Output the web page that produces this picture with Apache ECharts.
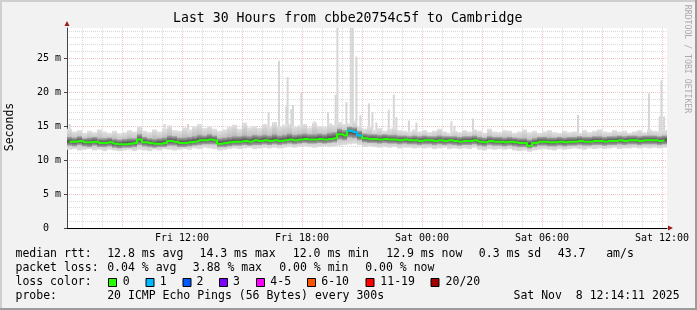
<!DOCTYPE html>
<html><head><meta charset="utf-8">
<script src="https://cdn.jsdelivr.net/npm/echarts@6/dist/echarts.min.js"></script>
<style>html,body{margin:0;padding:0;background:#f2f2f2}#c{width:697px;height:310px}</style>
</head><body><div id="c"></div>
<script>
// ---- data (hours counted from Fri 00:00) ----
const START_HOUR = 6.25;   // Fri 06:15
const STEP_HOURS = 0.25;   // one smoke column per 15 minutes

const medianVals = [
12.7,12.7,12.8,12.6,12.6,12.7,12.5,12.5,12.6,12.4,
12.3,12.3,12.4,12.5,13.0,12.6,12.5,12.4,12.4,12.5,
12.8,12.7,12.5,12.5,12.6,12.7,12.9,12.9,13.0,12.9,
12.4,12.5,12.6,12.7,12.7,12.8,12.7,12.9,12.8,12.9,
12.8,12.9,12.8,12.9,13.0,12.9,13.0,13.1,13.0,13.0,
13.1,13.0,13.1,13.2,13.8,13.6,14.3,14.1,13.6,13.2,
13.1,13.1,13.0,13.1,13.0,13.0,12.9,13.0,12.9,12.9,
12.8,12.9,12.9,12.8,12.9,12.8,12.9,12.8,12.7,12.8,
12.8,12.9,12.7,12.6,12.8,12.7,12.7,12.6,12.7,12.6,
12.5,12.5,12.1,12.5,12.7,12.7,12.6,12.6,12.7,12.6,
12.7,12.7,12.8,12.7,12.7,12.8,12.8,12.7,12.8,12.8,
12.9,12.8,12.9,12.9,12.8,12.9,12.9,12.9,12.8,12.9];

const hiVals = [
14.6,14.2,14.4,14.0,14.3,14.1,14.5,14.2,14.0,14.3,
13.9,14.1,14.4,14.2,14.9,14.3,14.1,14.5,14.2,14.6,
15.1,14.4,14.3,14.8,14.5,15.0,15.3,14.7,15.0,14.6,
14.3,14.5,14.9,15.2,14.6,15.5,14.8,15.0,14.7,15.3,
14.9,15.6,15.0,15.2,15.4,14.9,15.1,15.3,14.8,15.5,
15.0,14.9,15.4,15.2,15.6,15.3,15.4,15.8,15.0,14.6,
14.9,14.4,14.7,14.3,14.6,14.8,14.4,14.3,14.2,14.5,
14.2,14.4,14.1,14.3,14.6,14.2,14.0,14.3,14.1,14.4,
14.2,14.5,14.3,14.0,14.6,14.2,14.1,14.4,14.3,14.0,
14.2,14.5,14.1,14.3,14.0,14.2,14.4,14.1,14.0,14.3,
14.1,14.2,14.0,14.4,14.1,14.3,14.5,14.2,14.1,14.4,
14.2,14.3,14.0,14.2,14.4,14.1,14.5,14.3,14.2,14.4];

const loVals = [
11.5,11.6,11.4,11.5,11.6,11.4,11.5,11.3,11.5,11.4,
11.3,11.4,11.5,11.3,11.5,11.4,11.3,11.5,11.4,11.6,
11.5,11.4,11.5,11.6,11.5,11.7,11.6,11.8,11.7,11.6,
11.4,11.5,11.6,11.7,11.6,11.7,11.8,11.6,11.7,11.8,
11.7,11.8,11.7,11.8,11.9,11.8,11.9,12.0,11.9,11.8,
11.9,12.0,11.9,12.0,12.1,12.2,12.3,12.4,12.2,11.9,
12.0,11.9,11.8,11.9,11.8,11.9,11.7,11.8,11.8,11.7,
11.8,11.7,11.8,11.6,11.7,11.8,11.6,11.7,11.6,11.7,
11.6,11.8,11.5,11.4,11.6,11.5,11.6,11.5,11.6,11.4,
11.3,11.4,11.2,11.4,11.5,11.6,11.5,11.4,11.6,11.5,
11.6,11.7,11.6,11.5,11.7,11.6,11.7,11.6,11.7,11.8,
11.6,11.7,11.7,11.8,11.7,11.8,11.7,11.8,11.7,11.8];

const darkLoVals = [
12.1,12.0,12.2,12.0,11.9,12.1,11.9,11.9,12.0,11.8,
11.7,11.8,11.8,11.9,12.2,12.0,11.9,11.8,11.9,11.9,
12.1,12.1,11.9,11.9,12.0,12.1,12.2,12.3,12.3,12.3,
11.9,11.9,12.0,12.1,12.1,12.2,12.1,12.2,12.2,12.3,
12.2,12.3,12.2,12.3,12.4,12.3,12.4,12.5,12.4,12.4,
12.5,12.4,12.5,12.6,13.0,12.9,13.3,13.2,12.9,12.6,
12.5,12.5,12.4,12.5,12.4,12.4,12.3,12.4,12.3,12.3,
12.2,12.3,12.3,12.2,12.3,12.2,12.3,12.2,12.1,12.2,
12.2,12.3,12.1,12.0,12.2,12.1,12.1,12.0,12.1,12.0,
11.9,11.9,11.7,11.9,12.1,12.1,12.0,12.0,12.1,12.0,
12.1,12.1,12.2,12.1,12.1,12.2,12.2,12.1,12.2,12.2,
12.3,12.2,12.3,12.3,12.2,12.3,12.3,12.3,12.2,12.3];

const darkHiVals = [
13.4,13.3,13.5,13.2,13.3,13.4,13.2,13.2,13.3,13.1,
13.0,13.1,13.2,13.2,13.8,13.4,13.2,13.1,13.2,13.3,
13.6,13.5,13.3,13.3,13.4,13.5,13.7,13.6,13.8,13.6,
13.2,13.3,13.4,13.5,13.5,13.6,13.5,13.7,13.6,13.7,
13.6,13.8,13.6,13.7,13.9,13.7,13.8,13.9,13.8,13.8,
13.9,13.8,14.0,14.1,14.6,14.4,14.9,14.8,14.3,13.9,
13.8,13.8,13.7,13.8,13.7,13.7,13.6,13.6,13.5,13.6,
13.5,13.6,13.5,13.5,13.6,13.5,13.5,13.5,13.4,13.5,
13.5,13.6,13.4,13.3,13.5,13.4,13.4,13.3,13.4,13.3,
13.2,13.2,13.0,13.2,13.4,13.4,13.3,13.3,13.4,13.3,
13.4,13.4,13.5,13.4,13.4,13.5,13.5,13.4,13.5,13.5,
13.6,13.5,13.6,13.6,13.5,13.6,13.6,13.6,13.5,13.6];

// lost pings per column: [column index, lost count]
const lossSteps = [[56,1],[57,1],[58,1]];

// single tall outlier pings
const spikeHours = [6.38,11.13,12.30,15.10,16.33,16.85,17.22,17.28,17.47,17.55,17.97,18.62,
  19.30,19.68,19.77,20.22,20.44,20.54,20.72,20.92,21.35,21.52,21.72,22.34,22.59,22.72,
  23.35,23.72,25.47,25.62,26.55,31.80,35.35,35.88,35.97,36.10];
const spikeVals = [15.3,15.3,15.3,15.4,17.0,24.6,17.9,22.2,17.5,18.1,19.9,15.7,
  17.0,19.6,29.5,18.5,29.5,29.5,25.2,16.6,18.3,17.0,15.5,17.4,19.6,16.3,
  15.8,15.5,15.7,15.0,16.1,16.6,19.8,16.4,21.7,16.4];

const xTickHours = [12, 18, 24, 30, 36];
const xTickLabels = ['Fri 12:00', 'Fri 18:00', 'Sat 00:00', 'Sat 06:00', 'Sat 12:00'];
const yTickVals = [0, 5, 10, 15, 20, 25];
const yTickLabels = ['0  ', '5 m', '10 m', '15 m', '20 m', '25 m'];

const titleText = 'Last 30 Hours from cbbe20754c5f to Cambridge';
const medianStats = ['12.8 ms avg', '14.3 ms max', '12.0 ms min', '12.9 ms now', '0.3 ms sd', '43.7', 'am/s'];
const lossStats = ['0.04 % avg', '3.88 % max', '0.00 % min', '0.00 % now'];
const lossColorLabels = ['0', '1', '2', '3', '4-5', '6-10', '11-19', '20/20'];
const lossColors = ['#26ff00', '#00b8ff', '#0059ff', '#7e00ff', '#ff00ff', '#ff5500', '#ff0000', '#a10000'];
const probeText = '20 ICMP Echo Pings (56 Bytes) every 300s';
const dateText = 'Sat Nov  8 12:14:11 2025';

// ---- chart ----
const chart = echarts.init(document.getElementById('c'), null, {renderer: 'canvas', width: 697, height: 310});
const FONT = '"DejaVu Sans Mono", monospace';
const Y_MAX = 200 / 6.8;
const X_MIN = START_HOUR, X_MAX = START_HOUR + 30;

const lossMap = {};
lossSteps.forEach(p => { lossMap[p[0]] = p[1]; });

const smokeData = medianVals.map((m, i) => [START_HOUR + i * STEP_HOURS, loVals[i], darkLoVals[i], darkHiVals[i], hiVals[i]]);
const medianData = medianVals.map((m, i) => [START_HOUR + (i + 0.5) * STEP_HOURS, m]);
const lossLineData = medianVals.map((m, i) => [START_HOUR + (i + 0.5) * STEP_HOURS, lossMap[i] ? m : '-']);
const spikeData = spikeHours.map((h, i) => [h, spikeVals[i]]);

const G = echarts.graphic;
const lightFill = new G.LinearGradient(0, 0, 0, 1, [
  {offset: 0, color: '#e2e2e2'}, {offset: 0.5, color: '#b8b8b8'}, {offset: 1, color: '#dedede'}]);
const darkFill = new G.LinearGradient(0, 0, 0, 1, [
  {offset: 0, color: '#a8a8a8'}, {offset: 0.5, color: '#505050'}, {offset: 1, color: '#a8a8a8'}]);

function smokeItem(params, api) {
  const x0 = api.value(0);
  const a = api.coord([x0, api.value(4)]);
  const b = api.coord([x0 + STEP_HOURS, api.value(1)]);
  const c = api.coord([x0, api.value(3)]);
  const d = api.coord([x0 + STEP_HOURS, api.value(2)]);
  return {type: 'group', children: [
    {type: 'rect', shape: {x: a[0], y: a[1], width: b[0] - a[0], height: b[1] - a[1]}, style: {fill: lightFill}},
    {type: 'rect', shape: {x: c[0], y: c[1], width: d[0] - c[0], height: d[1] - c[1]}, style: {fill: darkFill}}
  ]};
}
function spikeItem(params, api) {
  const top = api.coord([api.value(0), api.value(1)]);
  const base = api.coord([api.value(0), 13]);
  return {type: 'rect', shape: {x: top[0] - 1, y: top[1], width: 2, height: base[1] - top[1]}, style: {fill: '#d6d6d6'}};
}

const txt = (x, y, text, extra) => Object.assign({type: 'text', silent: true,
  style: Object.assign({x: x, y: y, text: text, font: '11.5px ' + FONT, fill: '#000', textAlign: 'left', textVerticalAlign: 'middle'}, extra || {})});

const medX = [107.2, 199.5, 292.8, 386.2, 478.8, 557.8, 606.2];
const lossX = [107.2, 192.8, 279.2, 365.2];
const boxX = [108, 145.5, 182.5, 219, 256, 307, 365.5, 430.5];
const boxLabelX = [122.8, 159.8, 196.5, 233, 270.3, 321.3, 380.3, 445.6];

const graphics = [
  {type: 'rect', silent: true, z: -10, shape: {x: 0, y: 0, width: 697, height: 2}, style: {fill: '#cfcfcf'}},
  {type: 'rect', silent: true, z: -10, shape: {x: 0, y: 0, width: 2, height: 310}, style: {fill: '#cfcfcf'}},
  {type: 'rect', silent: true, z: -10, shape: {x: 0, y: 308, width: 697, height: 2}, style: {fill: '#9c9c9c'}},
  {type: 'rect', silent: true, z: -10, shape: {x: 695, y: 0, width: 2, height: 310}, style: {fill: '#9c9c9c'}},
  {type: 'text', silent: true, style: {x: 347.7, y: 19, text: titleText, font: '13.2px ' + FONT, fill: '#000', textAlign: 'center', textVerticalAlign: 'middle'}},
  {type: 'text', silent: true, x: 10, y: 127, rotation: Math.PI / 2, style: {x: 0, y: 0, text: 'Seconds', font: '11.5px ' + FONT, fill: '#000', textAlign: 'center', textVerticalAlign: 'middle'}},
  {type: 'text', silent: true, x: 687.5, y: 59, rotation: -Math.PI / 2, style: {x: 0, y: 0, text: 'RRDTOOL / TOBI OETIKER', font: '8.2px ' + FONT, fill: '#aaaaaa', textAlign: 'center', textVerticalAlign: 'middle'}},
  {type: 'polygon', silent: true, shape: {points: [[64.5, 26], [69.5, 26], [67, 21]]}, style: {fill: '#9e1c1c'}},
  {type: 'polygon', silent: true, shape: {points: [[668, 225.5], [668, 230.5], [673, 228]]}, style: {fill: '#9e1c1c'}},
  txt(15.5, 254, 'median rtt:'),
  txt(15.5, 268.3, 'packet loss:'),
  txt(15.5, 282, 'loss color:'),
  txt(15.5, 296, 'probe:'),
  txt(107.2, 296, probeText),
  txt(513.5, 296, dateText)
];
medianStats.forEach((s, i) => graphics.push(txt(medX[i], 254, s)));
lossStats.forEach((s, i) => graphics.push(txt(lossX[i], 268.3, s)));
lossColors.forEach((c, i) => {
  graphics.push({type: 'rect', silent: true, shape: {x: boxX[i] + 0.5, y: 278.5, width: 8, height: 8}, style: {fill: c, stroke: '#000', lineWidth: 1}});
  graphics.push(txt(boxLabelX[i], 282, lossColorLabels[i]));
});

const gridRect = {top: 28, height: 200};
const axisFont = {fontFamily: FONT, fontSize: 10, color: '#000'};
const majorGrid = {color: '#f0c2c2', type: [1, 1], width: 1};
const minorGrid = {color: '#d9d9d9', type: [1, 1], width: 1};

chart.setOption({
  backgroundColor: '#f2f2f2',
  animation: false,
  grid: [
    Object.assign({left: 67, width: 600, show: true, backgroundColor: '#ffffff', borderWidth: 0}, gridRect),
    Object.assign({left: 62, width: 605}, gridRect),
    Object.assign({left: 62, width: 605}, gridRect)
  ],
  xAxis: [
    {gridIndex: 0, type: 'value', min: X_MIN, max: X_MAX,
      axisLine: {show: true, onZero: false, lineStyle: {color: '#000', width: 1}},
      axisTick: {show: false}, axisLabel: {show: false}, splitLine: {show: false}},
    {gridIndex: 1, type: 'value', min: 6, max: X_MAX, interval: 1,
      axisLine: {show: false}, axisTick: {show: false}, axisLabel: {show: false},
      splitLine: {show: true, showMinLine: false, showMaxLine: false, lineStyle: minorGrid}},
    {gridIndex: 2, type: 'value', min: 6, max: X_MAX, interval: 3,
      axisLine: {show: false}, axisTick: {show: false},
      axisLabel: Object.assign({show: true, margin: 5, showMinLabel: false, showMaxLabel: false,
        formatter: v => { const k = xTickHours.indexOf(Math.round(v * 100) / 100); return k >= 0 ? xTickLabels[k] : ''; }}, axisFont),
      splitLine: {show: true, showMinLine: false, showMaxLine: false, lineStyle: majorGrid}}
  ],
  yAxis: [
    {gridIndex: 0, type: 'value', min: 0, max: Y_MAX, interval: 5,
      axisLine: {show: true, lineStyle: {color: '#444', width: 1}},
      axisTick: {show: true, length: 3, lineStyle: {color: '#444'}},
      minorTick: {show: false, splitNumber: 5},
      axisLabel: Object.assign({margin: 6, showMaxLabel: false,
        formatter: v => { const k = yTickVals.indexOf(Math.round(v * 100) / 100); return k >= 0 ? yTickLabels[k] : ''; }}, axisFont),
      splitLine: {show: true, showMinLine: false, showMaxLine: false, lineStyle: majorGrid},
      minorSplitLine: {show: true, lineStyle: minorGrid}},
    {gridIndex: 1, show: false, min: 0, max: 1},
    {gridIndex: 2, show: false, min: 0, max: 1}
  ],
  series: [
    {type: 'custom', name: 'outliers', xAxisIndex: 0, yAxisIndex: 0, z: 1, clip: true,
      renderItem: spikeItem, data: spikeData, encode: {x: 0, y: 1}},
    {type: 'custom', name: 'smoke', xAxisIndex: 0, yAxisIndex: 0, z: 2, clip: true,
      renderItem: smokeItem, data: smokeData, encode: {x: 0, y: [1, 4]}},
    {type: 'line', name: 'median', xAxisIndex: 0, yAxisIndex: 0, z: 3, step: 'middle',
      showSymbol: false, data: medianData, lineStyle: {color: lossColors[0], width: 2}},
    {type: 'line', name: 'median loss 1', xAxisIndex: 0, yAxisIndex: 0, z: 4, step: 'middle',
      showSymbol: false, connectNulls: false, data: lossLineData, lineStyle: {color: lossColors[1], width: 2}}
  ],
  graphic: graphics
});
</script></body></html>
